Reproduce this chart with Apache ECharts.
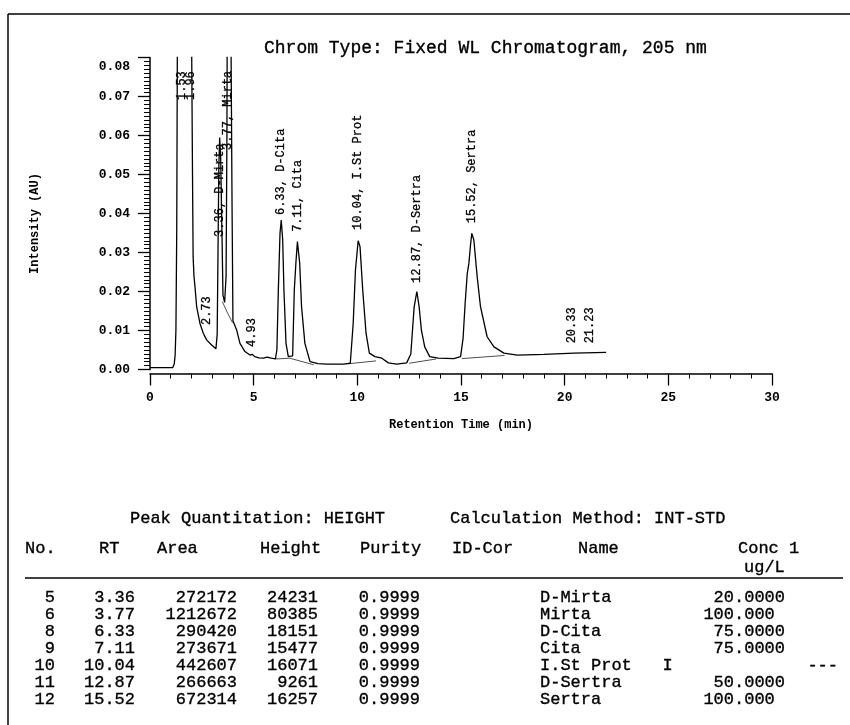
<!DOCTYPE html>
<html>
<head>
<meta charset="utf-8">
<script src="https://cdn.jsdelivr.net/npm/echarts@6/dist/echarts.min.js"></script>
<style>html,body{margin:0;padding:0;background:#fff}#c{width:850px;height:725px}</style>
</head>
<body>
<div id="c"></div>
<script>
// ---------- data ----------
const chartTitle = 'Chrom Type: Fixed WL Chromatogram, 205 nm';
const xAxisTitle = 'Retention Time (min)';
const yAxisTitle = 'Intensity (AU)';

// chromatogram trace (min, AU)
const traceT = [0,1.10,1.17,1.21,1.25,1.29,1.33,1.45,1.60,1.75,1.90,2.00,2.05,2.08,2.12,2.17,2.25,2.41,2.57,2.73,2.97,3.18,
  3.24,3.28,3.32,3.36,3.41,3.47,3.52,3.60,3.67,3.71,3.74,3.77,3.82,3.90,3.96,4.00,4.18,4.34,4.58,4.82,4.93,5.05,5.25,5.47,5.65,5.85,6.05,
  6.12,6.19,6.27,6.33,6.40,6.46,6.56,6.67,6.74,6.88,6.96,7.04,7.11,7.22,7.31,7.47,7.72,8.10,8.52,9.33,9.66,
  9.80,9.91,10.04,10.13,10.26,10.42,10.58,10.85,11.18,11.50,11.90,12.38,12.58,12.66,12.74,12.87,12.98,13.09,13.25,13.49,13.90,14.65,14.98,
  15.10,15.20,15.30,15.38,15.46,15.52,15.62,15.78,15.94,16.26,16.59,17.07,17.71,19.00,20.45,22.00];
const traceAU = [0.0005,0.0005,0.0015,0.0035,0.0100,0.0360,0.1000,0.1800,0.2100,0.2000,0.1500,0.0900,0.0500,0.0290,0.0240,0.0212,0.0161,0.0118,0.0093,0.0076,0.0063,0.0053,
  0.0090,0.0300,0.0520,0.0595,0.0540,0.0350,0.0190,0.0172,0.0240,0.0600,0.1200,0.1700,0.1500,0.0900,0.0400,0.0125,0.0101,0.0067,0.0046,0.0037,0.0039,0.0033,0.0030,0.0029,0.0032,0.0029,0.0027,
  0.0050,0.0204,0.0349,0.0383,0.0332,0.0204,0.0067,0.0033,0.0029,0.0035,0.0204,0.0276,0.0328,0.0272,0.0161,0.0067,0.0020,0.0015,0.0014,0.0014,0.0016,
  0.0118,0.0255,0.0330,0.0315,0.0204,0.0093,0.0042,0.0033,0.0029,0.0017,0.0014,0.0017,0.0040,0.0100,0.0160,0.0200,0.0161,0.0101,0.0058,0.0033,0.0029,0.0028,0.0033,
  0.0080,0.0170,0.0245,0.0272,0.0320,0.0349,0.0332,0.0238,0.0161,0.0084,0.0058,0.0042,0.0037,0.0039,0.0042,0.0044];

// integration baselines / fitted tails (each a small polyline)
const baselineSegments = [
  [[3.49,0.0174],[3.74,0.0145],[3.98,0.0120]],
  [[6.05,0.0027],[6.74,0.0029]],
  [[6.74,0.0029],[7.90,0.0012]],
  [[9.62,0.0015],[10.90,0.0022]],
  [[12.50,0.0016],[13.80,0.0027]],
  [[15.05,0.0028],[17.10,0.0036]]
];

// peak annotations
const labelRT   = [1.53, 1.96, 2.73, 3.36, 3.77, 4.93, 6.33, 7.11, 10.04, 12.87, 15.52, 20.33, 21.23];
const labelText = ['1.53','1.96','2.73','3.36, D-Mirta','3.77, Mirta','4.93','6.33, D-Cita','7.11, Cita','10.04, I.St Prot','12.87, D-Sertra','15.52, Sertra','20.33','21.23'];
const labelBaseAU = [0.0691, 0.0691, 0.0114, 0.0340, 0.0563, 0.0058, 0.0396, 0.0353, 0.0358, 0.0222, 0.0375, 0.0067, 0.0067];

// results table
const tableTitleLeft  = 'Peak Quantitation: HEIGHT';
const tableTitleRight = 'Calculation Method: INT-STD';
const colHeaders = ['No.','RT','Area','Height','Purity','ID-Cor','Name','Conc 1'];
const concUnit = 'ug/L';
const peakNo     = ['5','6','8','9','10','11','12'];
const peakRT     = ['3.36','3.77','6.33','7.11','10.04','12.87','15.52'];
const peakArea   = ['272172','1212672','290420','273671','442607','266663','672314'];
const peakHeight = ['24231','80385','18151','15477','16071','9261','16257'];
const peakPurity = ['0.9999','0.9999','0.9999','0.9999','0.9999','0.9999','0.9999'];
const peakName   = ['D-Mirta','Mirta','D-Cita','Cita','I.St Prot   I','D-Sertra','Sertra'];
const peakConc   = ['20.0000','100.000','75.0000','75.0000','---','50.0000','100.000'];

// ---------- rendering ----------
const FONT = '"Liberation Mono", "DejaVu Sans Mono", monospace';
const chart = echarts.init(document.getElementById('c'), null, {renderer: 'canvas'});

const traceData = traceT.map((t, i) => [t, traceAU[i]]);

// table layout
const cw = 10.2, tfs = 17;
const rowY0 = 597, rowDY = 17.1;
const rightEdges = [55, 135, 237, 318, 420];
const nameLeft = 540, concDot = 734, concRightPlain = 838;
const headerX = [25, 99, 157, 260, 360, 452, 578, 738];

function txt(text, x, y, align, extra) {
  return {
    type: 'text', x: x, y: y, silent: true,
    style: Object.assign({text: text, fill: '#000', fontFamily: FONT, fontSize: tfs, fontWeight: 'normal',
      align: align || 'left', verticalAlign: 'middle', stroke: '#000', lineWidth: 0.35}, extra || {})
  };
}
const g = [];
// frame
g.push({type:'line', shape:{x1:8, y1:14, x2:850, y2:14}, style:{stroke:'#000', lineWidth:1.5}});
g.push({type:'line', shape:{x1:8, y1:14, x2:8, y2:725}, style:{stroke:'#000', lineWidth:1.5}});
// table
g.push(txt(tableTitleLeft, 130, 518));
g.push(txt(tableTitleRight, 450, 518));
colHeaders.forEach((h, i) => g.push(txt(h, headerX[i], 548)));
g.push(txt(concUnit, 744, 567));
g.push({type:'line', shape:{x1:25, y1:578, x2:843, y2:578}, style:{stroke:'#000', lineWidth:1.5}});
const cols = [peakNo, peakRT, peakArea, peakHeight, peakPurity];
peakNo.forEach((_, r) => {
  const y = rowY0 + r * rowDY;
  cols.forEach((col, c) => g.push(txt(col[r], rightEdges[c], y, 'right')));
  g.push(txt(peakName[r], nameLeft, y, 'left'));
  const v = peakConc[r];
  const dot = v.indexOf('.');
  if (dot >= 0) g.push(txt(v, concDot + (v.length - dot) * cw, y, 'right'));
  else g.push(txt(v, concRightPlain, y, 'right'));
});

const labelData = labelRT.map((t, i) => [t, labelBaseAU[i], i]);

const option = {
  animation: false,
  backgroundColor: '#fff',
  title: {
    text: chartTitle, left: 259, top: 34,
    textStyle: {fontFamily: FONT, fontSize: 18, fontWeight: 'normal', color: '#000',
      textBorderColor: '#000', textBorderWidth: 0.35}
  },
  grid: {left: 150, top: 57.5, width: 622, height: 312, containLabel: false},
  xAxis: {
    type: 'value', min: 0, max: 30, interval: 5, offset: 4,
    axisLine: {show: true, onZero: false, lineStyle: {color: '#000', width: 1.5}},
    axisTick: {show: true, inside: false, length: 12, lineStyle: {color: '#000', width: 1.3}},
    minorTick: {show: true, splitNumber: 5, length: 5, lineStyle: {color: '#000', width: 1}},
    splitLine: {show: false},
    axisLabel: {margin: 18, fontFamily: FONT, fontWeight: 'bold', fontSize: 13, color: '#000'},
    name: xAxisTitle, nameLocation: 'middle', nameGap: 45,
    nameTextStyle: {fontFamily: FONT, fontWeight: 'bold', fontSize: 12, color: '#000'}
  },
  yAxis: {
    type: 'value', min: 0, max: 0.08, interval: 0.01,
    axisLine: {show: true, onZero: false, lineStyle: {color: '#000', width: 1.5}},
    axisTick: {show: true, inside: false, length: 12, lineStyle: {color: '#000', width: 1.3}},
    minorTick: {show: true, splitNumber: 10, length: 6, lineStyle: {color: '#000', width: 1}},
    splitLine: {show: false},
    axisLabel: {
      margin: 20, fontFamily: FONT, fontWeight: 'bold', fontSize: 13, color: '#000',
      formatter: v => Math.abs(v - 0.08) < 1e-9 ? '{top|' + v.toFixed(2) + '}' : v.toFixed(2),
      rich: {top: {padding: [18, 0, 0, 0], fontFamily: FONT, fontWeight: 'bold', fontSize: 13, color: '#000'}}
    },
    name: yAxisTitle, nameLocation: 'middle', nameGap: 109,
    nameTextStyle: {fontFamily: FONT, fontWeight: 'bold', fontSize: 12, color: '#000', padding: [0, 20, 0, 0]}
  },
  series: [
    {
      type: 'line', data: traceData, showSymbol: false, symbol: 'none', smooth: false, clip: true,
      lineStyle: {color: '#000', width: 1.3}, silent: true
    },
    {
      type: 'lines', coordinateSystem: 'cartesian2d', polyline: true, silent: true,
      data: baselineSegments.map(s => ({coords: s})),
      lineStyle: {color: '#222', width: 0.8, opacity: 1}
    },
    {
      type: 'custom', data: labelData, silent: true,
      encode: {x: 0, y: 1},
      renderItem: function (params, api) {
        const i = api.value(2);
        const p = api.coord([api.value(0), api.value(1)]);
        return {
          type: 'text', x: p[0], y: p[1], rotation: Math.PI / 2,
          style: {text: labelText[i], fill: '#000', fontFamily: FONT, fontSize: 12, fontWeight: 'normal',
            align: 'left', verticalAlign: 'middle', stroke: '#000', lineWidth: 0.3}
        };
      }
    }
  ],
  graphic: {elements: g}
};
chart.setOption(option);
</script>
</body>
</html>
